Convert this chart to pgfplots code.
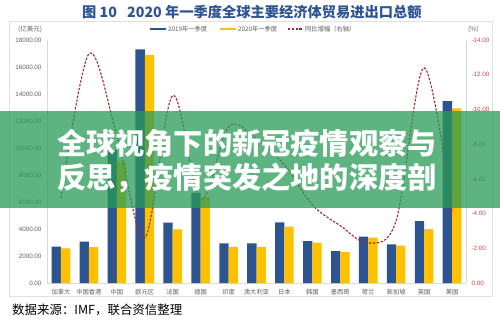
\documentclass[border=0pt]{standalone}
\usepackage{pgfplots}
\usepackage{pgfplotstable}
\pgfplotsset{compat=1.18}
\usepackage{fontspec}
\setmainfont{Liberation Sans}
\newfontfamily\cjk{Noto Sans CJK SC}
\definecolor{barblue}{RGB}{46,84,143}
\definecolor{baryellow}{RGB}{255,192,0}
\definecolor{linered}{RGB}{165,35,55}
\definecolor{titleblue}{RGB}{46,84,150}
\definecolor{ticklab}{RGB}{95,95,95}
\definecolor{rightlab}{RGB}{205,70,70}
\definecolor{axgray}{RGB}{217,217,217}
\definecolor{bannergreen}{RGB}{41,155,88}

\pgfplotstableread{
x y19 y20 g
0 2700 2570 -4.9
1 3060 2660 -13.2
2 9850 9010 -8.5
3 17310 16890 -2.6
4 4470 3970 -10.8
5 6700 6380 -4.8
6 2940 2680 -9.0
7 2930 2680 -8.3
8 4490 4170 -6.8
9 3110 2990 -4.5
10 2370 2280 -3.3
11 3430 3360 -2.3
12 2860 2770 -3.6
13 4590 4000 -12.4
14 13480 12940 -4.1
}\datatable

\begin{document}
\begin{tikzpicture}[x=1bp,y=1bp]
\path[use as bounding box] (0,0) rectangle (500,320);
\fill[white] (0,0) rectangle (500,320);
\draw[axgray!80, line width=0.5bp] (9,24) rectangle (492,299);
% title
\node[anchor=west, inner sep=0, text=titleblue, font=\cjk\bfseries\fontsize{14.3}{16}\selectfont] at (82,308) {图 10};
\node[anchor=west, inner sep=0, text=titleblue, font=\cjk\bfseries\fontsize{14.3}{16}\selectfont] at (127,308) {2020 年一季度全球主要经济体贸易进出口总额};
% unit labels
\node[anchor=west, inner sep=0, text=ticklab, font=\cjk\fontsize{6.5}{7}\selectfont] at (18,291) {(亿美元)};
\node[anchor=west, inner sep=0, text=ticklab, font=\cjk\fontsize{6.5}{7}\selectfont] at (468,291) {(\%)};
% legend
\draw[barblue, line width=2.2bp] (150,291) -- (166,291);
\node[anchor=west, inner sep=0, text=ticklab, font=\cjk\fontsize{6.3}{7}\selectfont] at (168,291) {2019年一季度};
\draw[baryellow, line width=2.2bp] (220,291) -- (236,291);
\node[anchor=west, inner sep=0, text=ticklab, font=\cjk\fontsize{6.3}{7}\selectfont] at (238,291) {2020年一季度};
\draw[linered, line width=1.2bp, dash pattern=on 2.4bp off 1.4bp] (288,291) -- (303,291);
\node[anchor=west, inner sep=0, text=ticklab, font=\cjk\fontsize{6.3}{7}\selectfont] at (305,291) {同比增幅（右轴）};

\begin{axis}[
  at={(47bp,37bp)}, anchor=south west, width=419bp, height=243bp, scale only axis,
  xmin=-0.5, xmax=14.5, ymin=0, ymax=18000,
  axis y line*=left, axis x line*=bottom,
  axis line style={axgray, line width=0.7bp},
  major tick length=0pt,
  scaled y ticks=false,
  ytick={0,2000,...,18000}, xtick={0,...,14},
  xticklabels={加拿大,中国香港,中国,欧元区,法国,德国,印度,澳大利亚,日本,韩国,墨西哥,荷兰,新加坡,英国,美国},
  xticklabel style={font=\cjk\fontsize{6.3}{7}\selectfont, text=ticklab, yshift=-3bp},
  yticklabel style={font=\fontsize{6.3}{7}\selectfont, text=ticklab, xshift=-2bp,
    /pgf/number format/fixed, /pgf/number format/fixed zerofill,
    /pgf/number format/precision=2, /pgf/number format/1000 sep={},
    /pgf/number format/assume math mode=true},
  clip=false,
]
\addplot[ybar, bar width=9.3bp, bar shift=-4.65bp, fill=barblue, draw=none] table[x=x,y=y19]{\datatable};
\addplot[ybar, bar width=9.3bp, bar shift=4.65bp, fill=baryellow, draw=none] table[x=x,y=y20]{\datatable};
\end{axis}

\begin{axis}[
  at={(47bp,37bp)}, anchor=south west, width=419bp, height=243bp, scale only axis,
  xmin=-0.5, xmax=14.5, ymin=-14, ymax=0, y dir=reverse,
  axis y line*=right, axis x line=none,
  axis line style={axgray, line width=0.7bp},
  major tick length=0pt,
  scaled y ticks=false,
  ytick={-14,-12,...,0},
  yticklabel style={font=\fontsize{6.3}{7}\selectfont, text=rightlab, xshift=2bp,
    /pgf/number format/fixed, /pgf/number format/fixed zerofill,
    /pgf/number format/precision=2,
    /pgf/number format/assume math mode=true},
]
\addplot[linered, line width=1.1bp, dash pattern=on 2.4bp off 1.5bp, smooth, tension=0.55] table[x=x,y=g]{\datatable};
\end{axis}

% banner
\fill[bannergreen, opacity=0.75] (0,112) rectangle (500,209);
\node[anchor=west, inner sep=0, text=white, font=\cjk\bfseries\fontsize{29.3}{30}\selectfont] at (57,177) {全球视角下的新冠疫情观察与};
\node[anchor=west, inner sep=0, text=white, font=\cjk\bfseries\fontsize{29.3}{30}\selectfont] at (57,142) {反思，疫情突发之地的深度剖};
% source
\node[anchor=west, inner sep=0, text=black, font=\cjk\fontsize{12.5}{14}\selectfont] at (12,10) {数据来源：IMF，联合资信整理};
\end{tikzpicture}
\end{document}
